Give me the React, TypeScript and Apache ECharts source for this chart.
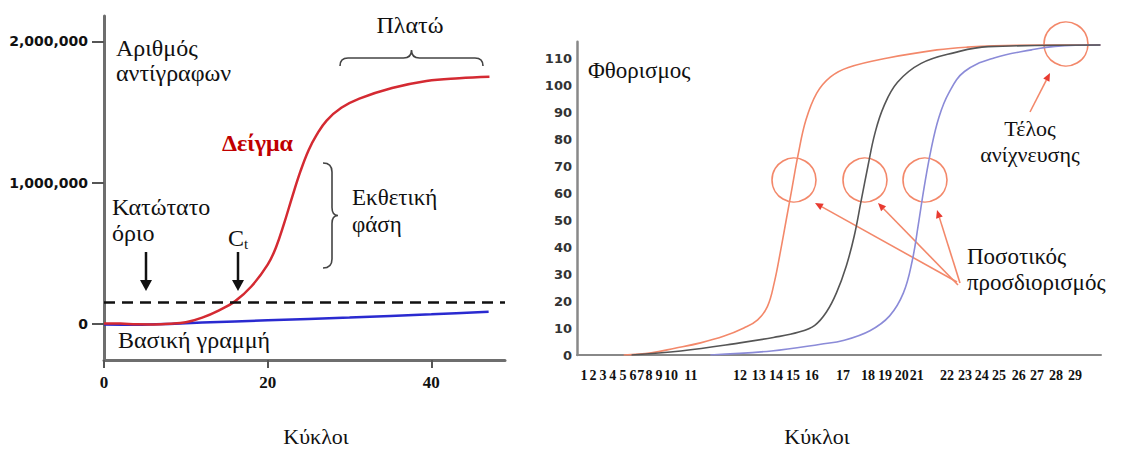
import React, { useEffect, useRef } from 'react';
import * as echarts from 'echarts';

// ---------- Left chart data (cycles, copies) ----------
const leftXTicks = [0, 20, 40];
const leftYTicks = [0, 1000000, 2000000];
const sampleCurve: [number, number][] = [
  [0, 4000], [2, 3000], [4, -2000], [6, -3000], [8, 1000], [10, 12000], [12, 45000],
  [14, 95000], [16, 160000], [18, 265000], [20, 420000], [21, 540000], [22, 710000],
  [23, 900000], [24, 1080000], [25, 1230000], [26, 1340000], [27.2, 1440000], [29, 1530000],
  [31.2, 1595000], [35.2, 1670000], [39.4, 1720000], [43.4, 1740000], [47.1, 1750000],
];
const baselineCurve: [number, number][] = [
  [0, -4000], [4, -6000], [8, 0], [12, 10000], [20, 26000], [30, 46000], [40, 68000], [47, 86000],
];
const thresholdValue = 155000;

// ---------- Right chart data (cycles, fluorescence) ----------
const rightYTicks = [0, 10, 20, 30, 40, 50, 60, 70, 80, 90, 100, 110];
const rightXTickLabels = [
  '1', '2', '3', '4', '5', '6', '7', '8', '9', '10', '11', '12', '13', '14', '15',
  '16', '17', '18', '19', '20', '21', '22', '23', '24', '25', '26', '27', '28', '29',
];
const rightXTickValues = [
  4.08, 4.54, 5.05, 5.55, 6.06, 6.57, 6.97, 7.38, 7.89, 8.5, 9.51, 12, 12.96, 13.83, 14.69,
  15.65, 17.23, 18.5, 19.36, 20.22, 20.98, 22.51, 23.42, 24.28, 25.15, 26.16, 27.08, 28.04, 29.01,
];
const orangeCurve: [number, number][] = [
  [6.1, 0], [7.5, 0.8], [8.7, 2.5], [10, 4.5], [11.2, 7], [12.2, 10], [12.9, 13], [13.4, 18],
  [13.75, 27], [14.05, 38], [14.35, 50], [14.65, 62], [14.95, 74], [15.35, 87], [15.9, 97],
  [16.6, 103], [17.5, 106.5], [19.5, 110], [22, 113], [23.5, 114], [26, 114.7], [30.3, 114.8],
];
const blackCurve: [number, number][] = [
  [6.5, 0], [9, 1.5], [12, 4.5], [13.7, 6.5], [15, 8.5], [15.8, 11], [16.4, 16], [16.9, 23],
  [17.4, 33], [17.8, 44], [18.15, 57], [18.5, 70], [18.85, 82], [19.3, 92], [20, 101],
  [21.2, 108], [22.9, 112], [24.6, 114.2], [30.3, 114.8],
];
const blueCurve: [number, number][] = [
  [10.5, 0], [13.6, 1.5], [16.1, 4], [17.3, 5.5], [18.6, 9], [19.6, 14.5], [20.3, 23], [20.75, 35],
  [21.05, 48], [21.35, 62], [21.7, 76], [22.1, 88], [22.6, 97], [23.4, 105], [24.9, 110],
  [26.8, 113], [28, 114.3], [30.3, 114.8],
];

// ---------- Brace shapes ----------
const HBRACE = 'M0,16 Q0,8 8,8 L63.5,8 Q71.5,8 71.5,0 Q71.5,8 79.5,8 L135,8 Q143,8 143,16';
const VBRACE = 'M0,0 Q9,0 9,9 L9,44.5 Q9,52.5 15,52.5 Q9,52.5 9,60.5 L9,96 Q9,105 0,105';
echarts.graphic.registerShape('hbrace', echarts.graphic.extendPath(HBRACE, {}));
echarts.graphic.registerShape('vbrace', echarts.graphic.extendPath(VBRACE, {}));

const SERIF = '"Liberation Serif", "DejaVu Serif", serif';
const ORANGE = '#f3886a';

function arrow(x1: number, y1: number, x2: number, y2: number, color: string, head: string, w: number, hl: number, hw: number) {
  const dx = x2 - x1;
  const dy = y2 - y1;
  const len = Math.sqrt(dx * dx + dy * dy);
  const ux = dx / len;
  const uy = dy / len;
  const bx = x2 - ux * hl;
  const by = y2 - uy * hl;
  const px = -uy * hw;
  const py = ux * hw;
  return [
    { type: 'line', shape: { x1, y1, x2: bx, y2: by }, style: { stroke: color, lineWidth: w } },
    {
      type: 'polygon',
      shape: { points: [[x2, y2], [bx + px, by + py], [bx - px, by - py]] },
      style: { fill: head },
    },
  ];
}

function txt(text: string, x: number, y: number, opts: any = {}) {
  return {
    type: 'text',
    x,
    y,
    style: {
      text,
      fill: opts.fill || '#111',
      fontFamily: SERIF,
      fontSize: opts.size || 24,
      fontWeight: opts.weight || 'normal',
      align: opts.align || 'left',
      verticalAlign: 'middle',
    },
  };
}

export default function App() {
  const ref = useRef<HTMLDivElement>(null);
  useEffect(() => {
    if (!ref.current) return;
    const chart = echarts.init(ref.current, null, { renderer: 'svg' });
    const option: any = {
      animation: false,
      backgroundColor: '#ffffff',
      grid: [
        { left: 104, top: 16, width: 401, height: 344 },
        { left: 577, top: 41.8, width: 524, height: 313.2 },
      ],
      xAxis: [
        {
          type: 'value', gridIndex: 0, min: 0, max: 49,
          splitLine: { show: false },
          axisLine: { onZero: false, lineStyle: { color: '#6e6e6e', width: 3 } },
          axisTick: { customValues: leftXTicks, length: 8, lineStyle: { color: '#555', width: 2 } },
          axisLabel: {
            customValues: leftXTicks, margin: 14, color: '#111', fontWeight: 'bold',
            fontFamily: 'Liberation Sans Narrow', fontSize: 17,
          },
        },
        {
          type: 'value', gridIndex: 1, min: 3.73, max: 30.33,
          splitLine: { show: false },
          axisLine: { onZero: false, lineStyle: { color: '#888', width: 2 } },
          axisTick: { show: false },
          axisLabel: {
            customValues: rightXTickValues, margin: 13, color: '#111', fontWeight: 'bold',
            fontFamily: 'Liberation Sans Narrow', fontSize: 14, hideOverlap: false,
            formatter: (v: number) => {
              const i = rightXTickValues.findIndex((p) => Math.abs(p - v) < 1e-6);
              return i >= 0 ? rightXTickLabels[i] : '';
            },
          },
        },
      ],
      yAxis: [
        {
          type: 'value', gridIndex: 0, min: -255000, max: 2180000,
          splitLine: { show: false },
          axisLine: { show: true, onZero: false, lineStyle: { color: '#6e6e6e', width: 3 } },
          axisTick: { show: true, customValues: leftYTicks, length: 12, lineStyle: { color: '#555', width: 2 } },
          axisLabel: {
            customValues: leftYTicks, margin: 16, color: '#111', fontWeight: 'bold',
            fontFamily: 'DejaVu Sans', fontSize: 14,
            formatter: (v: number) => v.toLocaleString('en-US'),
          },
        },
        {
          type: 'value', gridIndex: 1, min: 0, max: 116,
          splitLine: { show: false },
          axisLine: { show: true, onZero: false, lineStyle: { color: '#888', width: 2.5 } },
          axisTick: { show: false },
          axisLabel: {
            customValues: rightYTicks, margin: 5, color: '#333', fontWeight: 'bold',
            fontFamily: 'DejaVu Sans', fontSize: 13,
          },
        },
      ],
      series: [
        {
          type: 'line', xAxisIndex: 0, yAxisIndex: 0, data: baselineCurve, showSymbol: false,
          smooth: 0.3, lineStyle: { color: '#2a2ad0', width: 2.5 },
          markLine: {
            silent: true, symbol: 'none', label: { show: false },
            lineStyle: { color: '#111', type: [11, 7], width: 2.5 },
            data: [{ yAxis: thresholdValue }],
          },
        },
        {
          type: 'line', xAxisIndex: 0, yAxisIndex: 0, data: sampleCurve, showSymbol: false,
          smooth: 0.4, lineStyle: { color: '#d42a32', width: 2.5 },
        },
        {
          type: 'line', xAxisIndex: 1, yAxisIndex: 1, data: orangeCurve, showSymbol: false,
          smooth: 0.4, lineStyle: { color: ORANGE, width: 1.6 },
        },
        {
          type: 'line', xAxisIndex: 1, yAxisIndex: 1, data: blueCurve, showSymbol: false,
          smooth: 0.4, lineStyle: { color: '#8b8bd8', width: 1.6 },
        },
        {
          type: 'line', xAxisIndex: 1, yAxisIndex: 1, data: blackCurve, showSymbol: false,
          smooth: 0.4, lineStyle: { color: '#555', width: 1.6 },
        },
      ],
      graphic: [
        // Left chart annotations
        txt('Αριθμός', 116, 48),
        txt('αντίγραφων', 116, 73),
        txt('Πλατώ', 410, 25, { align: 'center' }),
        { type: 'hbrace', x: 340, y: 50, style: { stroke: '#444', fill: 'none', lineWidth: 1.6 } },
        txt('Δείγμα', 222, 143, { fill: '#c00000', weight: 'bold', size: 24 }),
        { type: 'vbrace', x: 323, y: 163, style: { stroke: '#444', fill: 'none', lineWidth: 1.6 } },
        txt('Εκθετική', 352, 197, { size: 23 }),
        txt('φάση', 352, 224, { size: 23 }),
        txt('Κατώτατο', 112, 207),
        txt('όριο', 112, 233),
        {
          type: 'text', x: 228, y: 238,
          style: {
            text: '{c|C}{s|t}', verticalAlign: 'middle',
            rich: {
              c: { fontFamily: SERIF, fontSize: 24, fill: '#111' },
              s: { fontFamily: SERIF, fontSize: 15, fill: '#111', padding: [12, 0, 0, 0] },
            },
          },
        },
        ...arrow(146, 252, 146, 291, '#111', '#111', 2.5, 11, 6),
        ...arrow(238, 252, 238, 291, '#111', '#111', 2.5, 11, 6),
        txt('Βασική γραμμή', 118, 340),
        txt('Κύκλοι', 316, 436, { align: 'center', size: 22 }),
        // Right chart annotations
        txt('Φθορισμος', 588, 70, { size: 23 }),
        { type: 'circle', shape: { cx: 794, cy: 180, r: 22 }, style: { stroke: ORANGE, fill: 'none', lineWidth: 1.6 } },
        { type: 'circle', shape: { cx: 865, cy: 180, r: 22 }, style: { stroke: ORANGE, fill: 'none', lineWidth: 1.6 } },
        { type: 'circle', shape: { cx: 925, cy: 180, r: 22 }, style: { stroke: ORANGE, fill: 'none', lineWidth: 1.6 } },
        { type: 'circle', shape: { cx: 1066, cy: 44, r: 22 }, style: { stroke: ORANGE, fill: 'none', lineWidth: 1.6 } },
        ...arrow(957, 282, 815, 203, ORANGE, '#e83a30', 1.6, 8, 3.5),
        ...arrow(958, 285, 878, 203, ORANGE, '#e83a30', 1.6, 8, 3.5),
        ...arrow(960, 283, 937, 210, ORANGE, '#e83a30', 1.6, 8, 3.5),
        ...arrow(1030, 112, 1050, 73, ORANGE, '#e83a30', 1.6, 8, 3.5),
        txt('Τέλος', 1030, 128, { align: 'center', size: 22 }),
        txt('ανίχνευσης', 1030, 154, { align: 'center', size: 22 }),
        txt('Ποσοτικός', 967, 256, { size: 23 }),
        txt('προσδιορισμός', 967, 282, { size: 23 }),
        txt('Κύκλοι', 817, 436, { align: 'center', size: 22 }),
      ],
    };
    chart.setOption(option);
    return () => chart.dispose();
  }, []);
  return <div ref={ref} style={{ position: 'absolute', left: 0, top: 0, width: 1124, height: 450 }} />;
}
